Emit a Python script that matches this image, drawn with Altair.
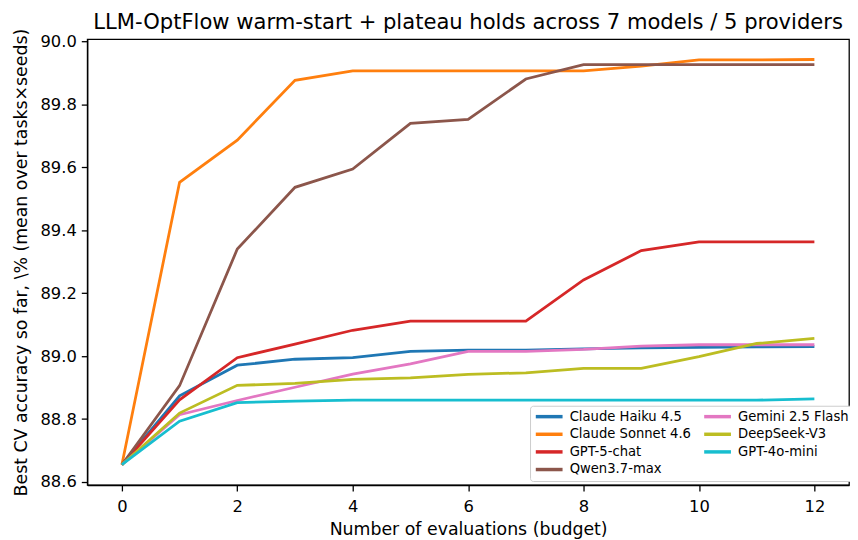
import altair as alt
import pandas as pd

budget = list(range(13))
models = ["Claude Haiku 4.5", "Claude Sonnet 4.6", "GPT-5-chat", "Qwen3.7-max",
          "Gemini 2.5 Flash", "DeepSeek-V3", "GPT-4o-mini"]
colors = ["#1f77b4", "#ff7f0e", "#d62728", "#8c564b", "#e377c2", "#bcbd22", "#17becf"]

haiku = [88.655, 88.874, 88.971, 88.990, 88.995, 89.015, 89.019, 89.019, 89.023, 89.026, 89.028, 89.029, 89.030]
sonnet = [88.655, 89.552, 89.686, 89.876, 89.906, 89.906, 89.906, 89.906, 89.906, 89.921, 89.941, 89.941, 89.942]
gpt5 = [88.655, 88.861, 88.995, 89.038, 89.082, 89.111, 89.111, 89.111, 89.242, 89.335, 89.363, 89.363, 89.363]
qwen = [88.655, 88.906, 89.340, 89.536, 89.594, 89.739, 89.752, 89.880, 89.926, 89.926, 89.926, 89.926, 89.926]
gemini = [88.655, 88.814, 88.859, 88.901, 88.943, 88.975, 89.015, 89.015, 89.021, 89.032, 89.036, 89.036, 89.036]
deepseek = [88.655, 88.819, 88.907, 88.913, 88.926, 88.931, 88.942, 88.947, 88.961, 88.961, 88.998, 89.040, 89.056]
gpt4omini = [88.655, 88.793, 88.852, 88.857, 88.860, 88.860, 88.860, 88.860, 88.860, 88.860, 88.860, 88.860, 88.864]

series = [haiku, sonnet, gpt5, qwen, gemini, deepseek, gpt4omini]

rows = []
for m, vals in zip(models, series):
    for b, v in zip(budget, vals):
        rows.append({"model": m, "budget": b, "acc": v})
df = pd.DataFrame(rows)

font = "DejaVu Sans"

chart = alt.Chart(df).mark_line(strokeWidth=2.8, clip=True).encode(
    x=alt.X("budget:Q",
            scale=alt.Scale(domain=[-0.6, 12.6], nice=False, zero=False),
            axis=alt.Axis(values=[0, 2, 4, 6, 8, 10, 12], format="d", grid=False,
                          labelPadding=8, titlePadding=5,
                          title="Number of evaluations (budget)")),
    y=alt.Y("acc:Q",
            scale=alt.Scale(domain=[88.5906, 90.0064], nice=False, zero=False),
            axis=alt.Axis(values=[88.6, 88.8, 89.0, 89.2, 89.4, 89.6, 89.8, 90.0],
                          format=".1f", grid=False, labelPadding=5, titlePadding=10,
                          title="Best CV accuracy so far, \\% (mean over tasks×seeds)")),
    color=alt.Color("model:N",
                    scale=alt.Scale(domain=models, range=colors),
                    legend=alt.Legend(title=None, orient="none", legendX=447, legendY=370,
                                      columns=2, symbolType="M-1,0H4.2", symbolStrokeWidth=3.5,
                                      symbolSize=108, labelFontSize=13.3, labelFont=font,
                                      labelOffset=22, labelColor="black",
                                      fillColor="white", strokeColor="#cccccc",
                                      padding=4, rowPadding=3.8, columnPadding=5,
                                      cornerRadius=3, labelLimit=250)),
    order=alt.Order("budget:Q"),
).properties(
    width=769, height=450,
    title=alt.TitleParams("LLM-OptFlow warm-start + plateau holds across 7 models / 5 providers",
                          fontSize=21.3, font=font, fontWeight="normal", anchor="middle",
                          color="black", offset=6, dy=11, frame="group"),
    autosize=alt.AutoSizeParams(type="none"),
    padding={"left": 80, "top": 29, "right": 1, "bottom": 52},
).configure_view(
    stroke="black", strokeWidth=1.3
).configure_axis(
    domainColor="black", tickColor="black", labelColor="black", titleColor="black",
    labelFont=font, titleFont=font, labelFontSize=16.5, titleFontSize=17.5,
    titleFontWeight="normal", tickSize=6, tickWidth=1.3, domainWidth=1.3,
)

chart.save("out.html", embed_options={"renderer": "svg", "actions": False})
